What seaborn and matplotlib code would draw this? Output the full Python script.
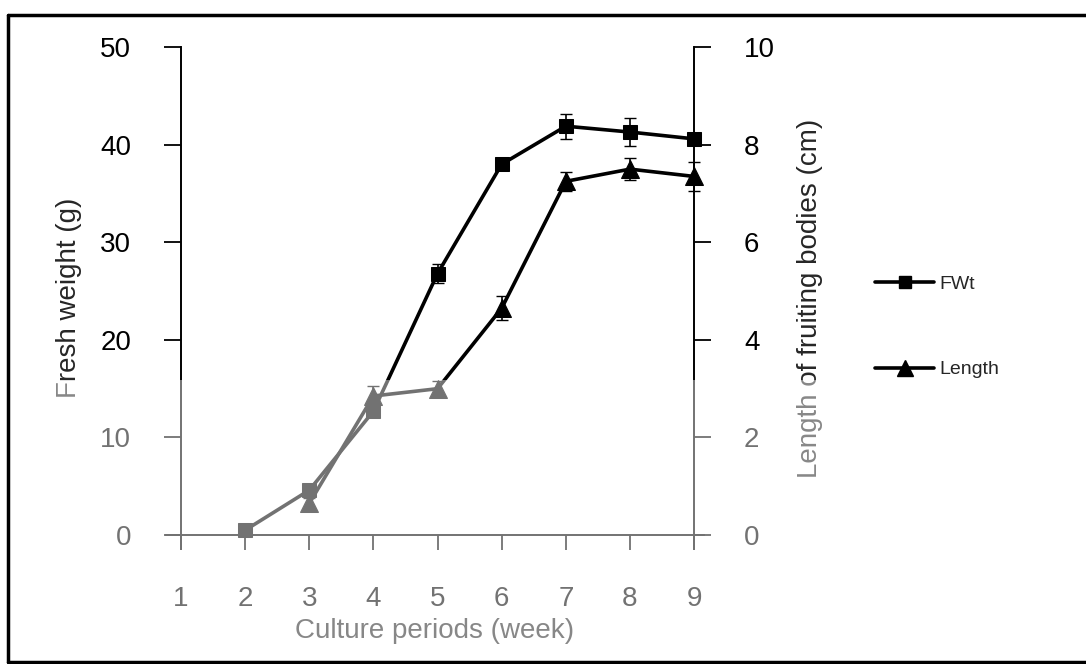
import numpy as np
import pandas as pd
import matplotlib
matplotlib.use("Agg")
import matplotlib.pyplot as plt
import seaborn as sns
from matplotlib.patches import Rectangle
from matplotlib.lines import Line2D

# ---- data ----
weeks_fwt = [2, 3, 4, 5, 6, 7, 8, 9]
fwt = [0.5, 4.6, 12.7, 26.8, 38.0, 41.9, 41.3, 40.6]
fwt_err = [0.0, 0.3, 0.4, 1.0, 0.3, 1.3, 1.4, 0.3]

weeks_len = [3, 4, 5, 6, 7, 8, 9]
length = [0.65, 2.85, 3.0, 4.65, 7.25, 7.5, 7.35]
length_err = [0.1, 0.2, 0.15, 0.25, 0.2, 0.22, 0.3]

x_ticks = [1, 2, 3, 4, 5, 6, 7, 8, 9]
left_ticks = [0, 10, 20, 30, 40, 50]
right_ticks = [0, 2, 4, 6, 8, 10]

df_fwt = pd.DataFrame({"week": weeks_fwt, "value": fwt, "err": fwt_err})
df_len = pd.DataFrame({"week": weeks_len, "value": length, "err": length_err})

sns.set_theme(style="white")
plt.rcParams["font.family"] = ["Liberation Sans", "DejaVu Sans"]

fig = plt.figure(figsize=(10.86, 6.64), dpi=100)
ax = fig.add_axes([0.1525, 0.1736, 0.4955, 0.7554])
ax2 = ax.twinx()

# lines
sns.lineplot(data=df_fwt, x="week", y="value", ax=ax, color="black", lw=2.6,
             marker="s", markersize=10.5, markeredgecolor="black", legend=False, zorder=3)
ax.errorbar(df_fwt["week"], df_fwt["value"], yerr=df_fwt["err"], fmt="none",
            ecolor="black", elinewidth=1.2, capsize=4, zorder=2)

sns.lineplot(data=df_len, x="week", y="value", ax=ax2, color="black", lw=2.6,
             marker="^", markersize=13, markeredgecolor="black", legend=False, zorder=3)
ax2.errorbar(df_len["week"], df_len["value"], yerr=df_len["err"], fmt="none",
             ecolor="black", elinewidth=1.2, capsize=4, zorder=2)

# axes limits / spines
ax.set_xlim(0.76, 9.15)
ax.set_ylim(-1.4, 50)
ax2.set_ylim(-0.28, 10)

for a in (ax, ax2):
    a.spines["top"].set_visible(False)
    a.grid(False)
    a.set_facecolor("none")
ax.spines["right"].set_visible(False)
ax2.spines["left"].set_visible(False)
ax2.spines["bottom"].set_visible(False)
ax.spines["left"].set_position(("data", 1))
ax2.spines["right"].set_position(("data", 9))
ax.spines["bottom"].set_position(("data", 0))
for s in ["left", "bottom"]:
    ax.spines[s].set_color("black")
    ax.spines[s].set_linewidth(1.4)
ax2.spines["right"].set_color("black")
ax2.spines["right"].set_linewidth(1.4)

ax.set_xticks(x_ticks)
ax.set_yticks(left_ticks)
ax2.set_yticks(right_ticks)

ax.tick_params(axis="x", direction="out", length=11, width=1.3, pad=26,
               labelsize=20, colors="black", bottom=True)
ax.tick_params(axis="y", direction="out", length=12, width=1.3, pad=24,
               labelsize=20, colors="black", left=True)
ax2.tick_params(axis="y", direction="out", length=12, width=1.3, pad=24,
                labelsize=20, colors="black", right=True)

ax.set_xlabel("Culture periods (week)", fontsize=20, labelpad=4)
ax.set_ylabel("Fresh weight (g)", fontsize=20, labelpad=13)
ax2.set_ylabel("Length of fruiting bodies (cm)", fontsize=20, labelpad=16)

# legend
handles = [
    Line2D([], [], color="black", lw=2.6, marker="s", markersize=9),
    Line2D([], [], color="black", lw=2.6, marker="^", markersize=11),
]
fig.legend(handles, ["FWt", "Length"], loc="center left",
           bbox_to_anchor=(0.79, 0.508), frameon=False, fontsize=14,
           handlelength=3.0, handletextpad=0.3, labelspacing=3.5)

# scanned gray tone in the lower part
fig.patches.append(Rectangle((0, 0), 1, 0.428, transform=fig.transFigure,
                             facecolor="white", edgecolor="none", alpha=0.45, zorder=10))

# outer frame (top, left, bottom)
for xs, ys in [([0.007, 1.0], [0.977, 0.977]),
               ([0.007, 0.007], [0.977, 0.003]),
               ([0.007, 1.0], [0.003, 0.003])]:
    fig.add_artist(Line2D(xs, ys, transform=fig.transFigure, color="black",
                          lw=2.5, zorder=20))

fig.savefig("out.png", dpi=100)
